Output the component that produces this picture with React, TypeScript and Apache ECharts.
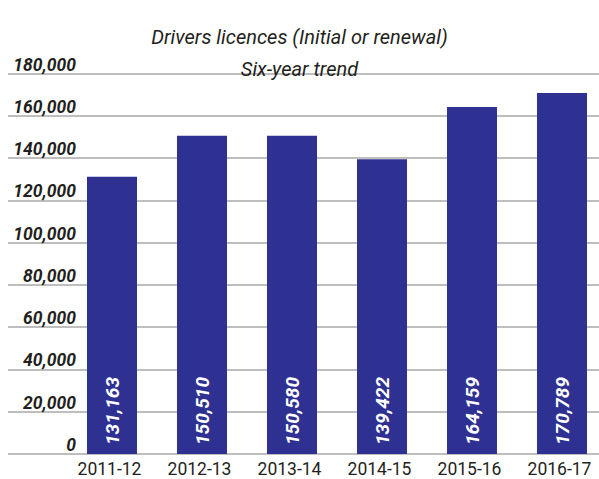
import React, { useEffect, useRef } from "react";
import * as echarts from "echarts";

const categories = ["2011-12", "2012-13", "2013-14", "2014-15", "2015-16", "2016-17"];
const licences = [131163, 150510, 150580, 139422, 164159, 170789];
const titleLines = ["Drivers licences (Initial or renewal)", "Six-year trend"];
const yMax = 180000;
const yStep = 20000;

const FONT = "Roboto, 'Liberation Sans', sans-serif";
const fmt = (v: number) => String(v).replace(/\B(?=(\d{3})+(?!\d))/g, ",");

export default function App() {
  const ref = useRef<HTMLDivElement>(null);
  useEffect(() => {
    document.body.style.margin = "0";
    const chart = echarts.init(ref.current!, null, { renderer: "svg" });
    chart.setOption({
      animation: false,
      backgroundColor: "#ffffff",
      title: {
        text: titleLines.join("\n"),
        left: "center",
        top: 16,
        textStyle: {
          fontFamily: FONT,
          fontSize: 20,
          fontStyle: "italic",
          fontWeight: "normal",
          color: "#231f20",
          lineHeight: 32,
        },
      },
      grid: [
        { left: 8, right: 0, top: 73.5, height: 380.5, outerBoundsMode: "none" },
        { left: 67, width: 540, top: 73.5, height: 380.5, outerBoundsMode: "none" },
      ],
      xAxis: [
        { type: "category", gridIndex: 0, show: false, data: categories },
        {
          type: "category",
          gridIndex: 1,
          data: categories,
          axisLine: { show: false },
          axisTick: { show: false },
          axisLabel: {
            interval: 0,
            margin: 7,
            lineHeight: 16,
            fontFamily: FONT,
            fontSize: 17.5,
            color: "#231f20",
            padding: [0, 5, 0, 0],
          },
        },
      ],
      yAxis: [
        {
          type: "value",
          gridIndex: 0,
          min: 0,
          max: yMax,
          interval: yStep,
          axisLine: { show: false },
          axisTick: { show: false },
          splitLine: { show: true, lineStyle: { color: "#a9a9a9", width: 1.6 } },
          axisLabel: {
            inside: true,
            margin: 68,
            align: "right",
            verticalAlign: "bottom",
            lineHeight: 18,
            fontFamily: FONT,
            fontSize: 17.5,
            fontStyle: "italic",
            fontWeight: "bold",
            color: "#231f20",
            formatter: (v: number) => fmt(v),
          },
        },
        {
          type: "value",
          gridIndex: 1,
          min: 0,
          max: yMax,
          interval: yStep,
          show: false,
          splitLine: { show: false },
        },
      ],
      series: [
        {
          type: "bar",
          xAxisIndex: 1,
          yAxisIndex: 1,
          data: licences,
          barWidth: 50,
          itemStyle: { color: "#2e3192" },
          label: {
            show: true,
            position: "insideBottom",
            rotate: 90,
            align: "left",
            verticalAlign: "middle",
            distance: 9,
            color: "#ffffff",
            fontFamily: FONT,
            fontSize: 19,
            fontStyle: "italic",
            fontWeight: "bold",
            formatter: (p: any) => fmt(p.value),
          },
        },
      ],
    });
    return () => chart.dispose();
  }, []);
  return <div ref={ref} style={{ width: 599, height: 479 }} />;
}
